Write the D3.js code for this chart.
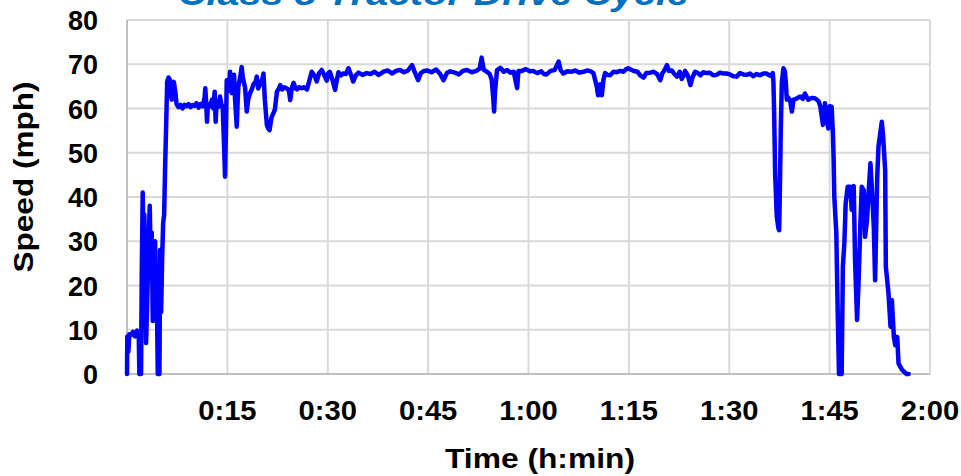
<!DOCTYPE html>
<html>
<head>
<meta charset="utf-8">
<script src="https://cdn.jsdelivr.net/npm/d3@7"></script>
<style>
  html, body { margin: 0; padding: 0; background: #fff; }
  svg { display: block; }
</style>
</head>
<body>
<svg id="chart" width="961" height="476"></svg>
<script>
// ---- data ----
const chartTitle = "Class 8 Tractor Drive Cycle";
const xAxisTitle = "Time (h:min)";
const yAxisTitle = "Speed (mph)";
const xTickValues = [0, 15, 30, 45, 60, 75, 90, 105, 120];
const xTickLabels = ["", "0:15", "0:30", "0:45", "1:00", "1:15", "1:30", "1:45", "2:00"];
const yTickValues = [0, 10, 20, 30, 40, 50, 60, 70, 80];

// time in minutes
const timeMin = [
  0.0, 0.05, 0.2, 0.35, 0.6, 0.9, 1.2, 1.5, 1.75, 1.85, 2.1, 2.2, 2.35, 2.45, 2.6, 2.7, 2.85, 3.0, 3.2, 3.4,
  3.55, 3.7, 3.85, 4.0, 4.2, 4.35, 4.5, 4.6, 4.85, 4.95, 5.1, 5.25, 5.4, 5.55, 5.7, 5.85, 6.0, 6.2, 6.4, 6.55,
  6.7, 6.85, 7.0, 7.2, 7.4, 7.7, 8.0, 8.3, 8.6, 8.9, 9.2, 9.5, 9.8, 10.1, 10.4, 10.7, 11.0, 11.3, 11.6, 11.7,
  11.85, 11.95, 12.1, 12.4, 12.7, 12.9, 13.1, 13.25, 13.4, 13.7, 13.9, 14.1, 14.3, 14.5, 14.65, 14.8, 14.9, 15.1, 15.3, 15.4,
  15.55, 15.65, 15.8, 16.0, 16.15, 16.4, 16.55, 16.64, 16.9, 17.14, 17.3, 17.64, 17.9, 18.1, 18.4, 18.7, 18.9, 19.2, 19.4, 19.6,
  19.9, 20.2, 20.4, 20.6, 20.9, 21.1, 21.3, 21.6, 21.9, 22.1, 22.4, 22.7, 22.9, 23.2, 23.5, 23.9, 24.2, 24.4, 24.6, 24.9,
  25.2, 25.4, 25.7, 26.1, 26.5, 26.9, 27.2, 27.6, 28.0, 28.36, 28.7, 29.1, 29.4, 29.85, 30.1, 30.3, 30.7, 31.1, 31.3, 31.6,
  32.0, 32.3, 32.7, 33.1, 33.5, 33.8, 34.2, 34.6, 35.2, 35.8, 36.4, 37.0, 37.6, 38.3, 39.0, 39.6, 40.2, 40.8, 41.4, 42.0,
  42.6, 43.0, 43.5, 43.9, 44.4, 44.8, 45.5, 46.2, 46.8, 47.3, 47.8, 48.3, 49.0, 49.6, 50.2, 50.8, 51.5, 52.2, 52.7, 53.0,
  53.3, 53.8, 54.2, 54.5, 54.7, 54.86, 55.0, 55.3, 55.8, 56.3, 56.8, 57.3, 57.8, 58.1, 58.3, 58.5, 59.0, 59.6, 60.2, 60.7,
  61.3, 61.9, 62.3, 62.7, 63.3, 63.9, 64.5, 64.8, 65.2, 65.8, 66.4, 67.0, 67.6, 68.2, 68.8, 69.3, 69.7, 70.2, 70.4, 70.7,
  70.96, 71.2, 71.45, 71.8, 72.2, 72.7, 73.2, 73.7, 74.2, 74.6, 74.9, 75.4, 75.9, 76.3, 76.7, 77.2, 77.6, 78.2, 78.7, 79.2,
  79.7, 80.0, 80.2, 80.7, 81.0, 81.4, 81.8, 82.2, 82.6, 82.9, 83.2, 83.4, 83.8, 84.2, 84.5, 84.9, 85.3, 85.7, 86.1, 86.6,
  87.1, 87.6, 88.1, 88.6, 89.1, 89.6, 90.1, 90.6, 91.1, 91.6, 92.1, 92.6, 93.1, 93.6, 94.1, 94.6, 95.1, 95.6, 96.0, 96.2,
  96.5, 96.6, 96.7, 96.86, 97.1, 97.35, 97.46, 97.55, 97.7, 97.86, 98.1, 98.3, 98.45, 98.6, 98.8, 99.1, 99.36, 99.6, 100.0, 100.6,
  101.0, 101.3, 101.8, 102.3, 102.8, 103.1, 103.4, 103.6, 103.8, 104.0, 104.2, 104.3, 104.5, 104.8, 105.0, 105.3, 105.5, 105.6, 105.7, 106.0,
  106.2, 106.4, 106.8, 106.98, 107.2, 107.4, 107.7, 108.1, 108.3, 108.6, 108.8, 109.1, 109.3, 109.6, 109.8, 110.1, 110.3, 110.6, 110.8, 111.1,
  111.3, 111.6, 111.8, 112.1, 112.3, 112.6, 112.8, 113.0, 113.3, 113.4, 113.8, 114.1, 114.3, 114.6, 114.8, 115.1, 115.3, 115.8, 116.5, 116.8
];
// speed in mph
const speedMph = [
  0, 8.5, 5, 9, 8.8, 9.5, 8.5, 9.8, 9, 0, 0, 22, 41, 30, 36, 22, 7, 15, 28, 38,
  25, 32, 12, 22, 30, 18, 12, 0, 0, 28, 14, 26, 34, 36, 47, 56, 66, 67, 66.5, 63,
  62, 65.5, 66, 64, 61, 60.3, 60.8, 60, 60.8, 60.5, 61, 60.3, 60.8, 60.6, 61.2, 60.2, 61, 60.5, 62.5, 64.6,
  61, 57, 61, 60.5, 62, 60, 63.8, 57, 61.5, 60.4, 62.7, 61, 60.3, 52, 44.6, 56, 66.4, 64, 66, 68.3,
  64, 63.5, 67, 67.6, 62, 55.9, 62, 65, 67, 69.4, 67, 64.8, 59.3, 62, 63.5, 64.5, 65.5, 66, 67.2, 64.5,
  65.5, 66.5, 67.9, 62, 56.3, 55.5, 55.1, 58, 59, 59.8, 63.8, 64.5, 65.3, 64.3, 64.8, 64.5, 64, 61.9, 64.5, 65.8,
  64.5, 64.3, 64.8, 64.6, 64.8, 64.3, 66, 68.3, 67.5, 66.1, 68, 68.7, 67.8, 66.3, 68, 68.3, 66.5, 64.2, 66, 68.2,
  67.5, 67.9, 67.8, 69.1, 67.5, 66.1, 67.5, 68.1, 67.6, 68, 67.8, 68.3, 67.6, 68.3, 68.6, 67.9, 68.5, 68.7, 68.2, 68.6,
  69.8, 68.2, 66.4, 68, 68.5, 68.6, 68.2, 68.8, 67.8, 66.4, 68, 68.4, 68.1, 67.7, 68.5, 68.7, 68.2, 68.5, 69, 71.5,
  68.8, 68.3, 67.8, 66.5, 63, 59.3, 64, 68.7, 69.2, 68.3, 68.7, 68.1, 68.3, 66, 64.6, 68.5, 68.5, 68.9, 68.4, 68.5,
  68, 68.4, 67.8, 67.7, 68.5, 68.7, 70.6, 68.7, 67.9, 68.4, 68.3, 68.6, 68.1, 68.3, 68.6, 68.4, 68, 65, 63, 65.5,
  63, 66.5, 68, 67.6, 67.5, 68.3, 68.2, 68.5, 68.3, 68.9, 69.1, 68.7, 68.4, 68.3, 67.5, 67, 68, 68.1, 68.3, 67.8,
  66.4, 68, 68.3, 69.8, 68.5, 68.6, 67.8, 67.2, 68.3, 66.7, 67.5, 68.5, 67.5, 65.3, 67, 68.3, 68, 67.5, 68.2, 68,
  68.1, 67.5, 67.6, 68.1, 67.9, 67.9, 67.7, 67.3, 67.2, 68, 67.7, 67.6, 67.9, 67.3, 67.8, 67.5, 67.9, 67.9, 67.5, 67.4,
  68, 66, 59.7, 45.4, 35.6, 32.9, 32.5, 40, 55, 66, 69.1, 68.5, 66, 62, 62.5, 61.8, 59.3, 62, 62.2, 62.7,
  62.2, 63.4, 62, 62.4, 62.3, 62, 61.5, 60.5, 58.5, 56.3, 59, 61.2, 58, 55.5, 60.5, 60.4, 54, 48.4, 40.1, 31.9,
  14.5, 0, 0, 24.3, 29.5, 38.6, 42.3, 42.3, 37.1, 42.5, 25.8, 12.2, 19.7, 34, 42.3, 41.5, 31, 35, 40.5, 47.6,
  42.3, 33.3, 21.2, 43.8, 51.4, 54.8, 57, 53.6, 46, 24.3, 18.2, 10.7, 16.7, 8.4, 6.5, 8.4, 2.4, 1, 0, 0
];

// ---- drawing ----
const svg = d3.select("#chart");
const plot = { left: 127, right: 930, top: 20, bottom: 374 };

const x = d3.scaleLinear().domain([0, 120]).range([plot.left, plot.right]);
const y = d3.scaleLinear().domain([0, 80]).range([plot.bottom, plot.top]);

svg.append("rect").attr("width", 961).attr("height", 476).attr("fill", "#fff");

// gridlines
const grid = svg.append("g");
grid.selectAll("line.h").data(yTickValues).join("line")
  .attr("x1", plot.left).attr("x2", plot.right)
  .attr("y1", d => y(d)).attr("y2", d => y(d))
  .attr("stroke", "#d9d9d9").attr("stroke-width", 2);
grid.selectAll("line.v").data(xTickValues).join("line")
  .attr("y1", plot.top).attr("y2", plot.bottom)
  .attr("x1", d => x(d)).attr("x2", d => x(d))
  .attr("stroke", "#d9d9d9").attr("stroke-width", 2);

// axes lines (left and bottom)
svg.append("line").attr("x1", plot.left).attr("x2", plot.left)
  .attr("y1", plot.top).attr("y2", plot.bottom)
  .attr("stroke", "#bfbfbf").attr("stroke-width", 2);
svg.append("line").attr("x1", plot.left).attr("x2", plot.right)
  .attr("y1", plot.bottom).attr("y2", plot.bottom)
  .attr("stroke", "#bfbfbf").attr("stroke-width", 2);

// line
const line = d3.line()
  .x((d, i) => x(timeMin[i]))
  .y(d => y(d))
  .curve(d3.curveLinear);
svg.append("path")
  .datum(speedMph)
  .attr("d", line)
  .attr("fill", "none")
  .attr("stroke", "#0000ff")
  .attr("stroke-width", 4.5)
  .attr("stroke-linejoin", "round")
  .attr("stroke-linecap", "round");

const fontFam = "'Liberation Sans', Arial, sans-serif";

// y axis
const yAxis = d3.axisLeft(y).tickValues(yTickValues).tickSize(0).tickPadding(0);
const gy = svg.append("g").attr("transform", `translate(98,0)`).call(yAxis);
gy.select(".domain").remove();
gy.selectAll("text")
  .attr("x", 0).attr("dy", "0.36em")
  .style("font-family", fontFam).style("font-weight", "bold")
  .style("font-size", "27px").attr("fill", "#000");

// x axis
const xAxis = d3.axisBottom(x).tickValues(xTickValues)
  .tickFormat((d, i) => xTickLabels[i]).tickSize(0).tickPadding(0);
const gx = svg.append("g").attr("transform", `translate(0,420)`).call(xAxis);
gx.select(".domain").remove();
gx.selectAll("text")
  .attr("y", 0).attr("dy", 0)
  .style("font-family", fontFam).style("font-weight", "bold")
  .style("font-size", "27px").attr("fill", "#000");
gx.selectAll(".tick").each(function(d) {
  d3.select(this).attr("transform", `translate(${x(d)},0) scale(1.08,1)`);
});

// axis titles
svg.append("text")
  .attr("x", 540).attr("y", 468)
  .attr("text-anchor", "middle")
  .attr("textLength", 190).attr("lengthAdjust", "spacingAndGlyphs")
  .style("font-family", fontFam).style("font-weight", "bold").style("font-size", "27px")
  .text(xAxisTitle);

svg.append("text")
  .attr("transform", "translate(33,177) rotate(-90)")
  .attr("text-anchor", "middle")
  .attr("textLength", 191).attr("lengthAdjust", "spacingAndGlyphs")
  .style("font-family", fontFam).style("font-weight", "bold").style("font-size", "27px")
  .text(yAxisTitle);

// chart title (cut off at the top edge, as in the reference)
svg.append("text")
  .attr("x", 178).attr("y", 5)
  .attr("textLength", 511).attr("lengthAdjust", "spacingAndGlyphs")
  .style("font-family", fontFam).style("font-weight", "bold").style("font-style", "italic")
  .style("font-size", "34px").attr("fill", "#0070c0")
  .text(chartTitle);
</script>
</body>
</html>
